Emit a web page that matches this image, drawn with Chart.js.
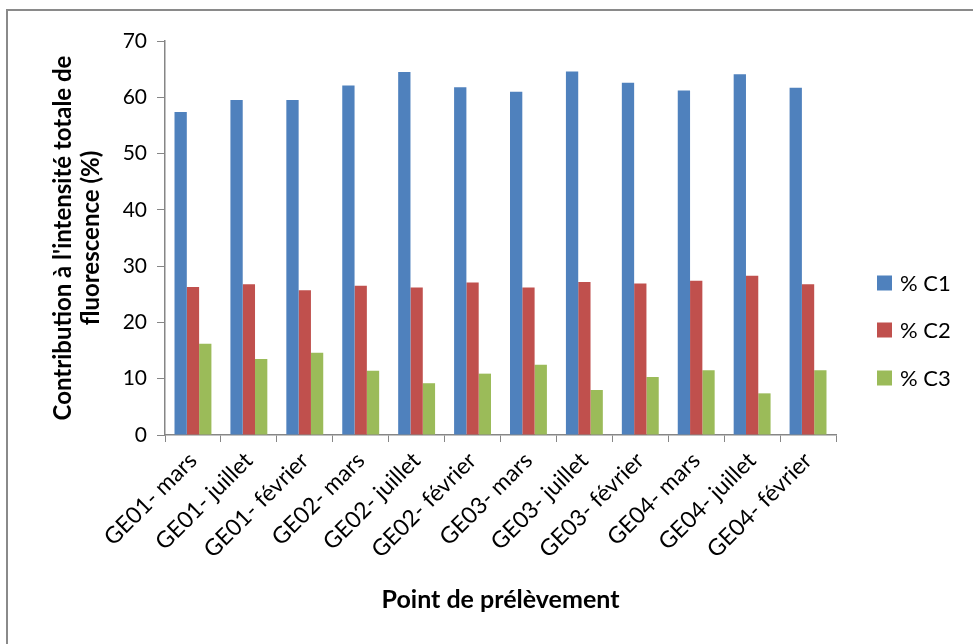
<!DOCTYPE html>
<html>
<head>
<meta charset="utf-8">
<script src="https://cdn.jsdelivr.net/npm/chart.js@4/dist/chart.umd.min.js"></script>
<style>
  html, body { margin: 0; padding: 0; background: #fff; overflow: hidden; }
  #wrap { position: relative; width: 973px; height: 644px; }
  #frame { position: absolute; left: 6px; top: 9px; width: 1000px; height: 700px;
           border: 2px solid #8a8a8a; box-sizing: border-box; pointer-events: none; }
  canvas { position: absolute; left: 0; top: 0; }
</style>
</head>
<body>
<div id="wrap">
  <canvas id="c" width="973" height="644"></canvas>
  <div id="frame"></div>
</div>
<script>
// Sampling points (site - month)
const categories = [
  'GE01- mars', 'GE01- juillet', 'GE01- février',
  'GE02- mars', 'GE02- juillet', 'GE02- février',
  'GE03- mars', 'GE03- juillet', 'GE03- février',
  'GE04- mars', 'GE04- juillet', 'GE04- février'
];
// Share of total fluorescence intensity per component (%)
const c1 = [57.4, 59.5, 59.5, 62.1, 64.5, 61.8, 61.0, 64.6, 62.6, 61.2, 64.1, 61.7];
const c2 = [26.3, 26.8, 25.7, 26.5, 26.2, 27.1, 26.2, 27.2, 26.9, 27.4, 28.3, 26.8];
const c3 = [16.2, 13.5, 14.6, 11.4, 9.2, 10.9, 12.5, 8.0, 10.3, 11.5, 7.4, 11.5];
const seriesNames = ['% C1', '% C2', '% C3'];
const yTicks = [0, 10, 20, 30, 40, 50, 60, 70];

const colors = ['#4F81BD', '#C0504D', '#9BBB59'];
const axisColor = '#868686';
const FONT = 'Lato, "Open Sans", sans-serif';

// Legend drawn beside the plot, stacked vertically
const sideLegend = {
  id: 'sideLegend',
  afterDraw(chart) {
    const { ctx, chartArea } = chart;
    const x = chartArea.right + 41;
    const rows = [283, 330, 378];
    ctx.save();
    ctx.font = '22px ' + FONT;
    ctx.textBaseline = 'middle';
    ctx.textAlign = 'left';
    chart.data.datasets.forEach((ds, i) => {
      ctx.fillStyle = ds.backgroundColor;
      ctx.fillRect(x, rows[i] - 7.5, 15, 15);
      ctx.fillStyle = '#000';
      ctx.fillText(ds.label, x + 23, rows[i] + 1);
    });
    ctx.restore();
  }
};

new Chart(document.getElementById('c'), {
  type: 'bar',
  data: {
    labels: categories,
    datasets: [c1, c2, c3].map((vals, i) => ({
      label: seriesNames[i],
      data: vals,
      backgroundColor: colors[i],
      borderWidth: 0,
      categoryPercentage: 0.66,
      barPercentage: 1.0
    }))
  },
  options: {
    responsive: false,
    animation: false,
    devicePixelRatio: 1,
    layout: { padding: { top: 41, right: 137, left: 0, bottom: 0 } },
    plugins: { legend: { display: false }, tooltip: { enabled: false } },
    scales: {
      x: {
        grid: { display: true, drawOnChartArea: false, drawTicks: true, tickLength: 7, color: axisColor, offset: true },
        border: { display: true, color: axisColor, width: 1.5 },
        ticks: { color: '#000', font: { family: FONT, size: 23 }, minRotation: 45, maxRotation: 45, padding: 5, autoSkip: false },
        title: { display: true, text: 'Point de prélèvement', color: '#000',
                 font: { family: FONT, size: 25, weight: 'bold', lineHeight: 1.2 }, padding: { top: 0, bottom: 29 } },
        afterFit(scale) { scale.height = 209; }
      },
      y: {
        min: 0, max: 70,
        grid: { display: true, drawOnChartArea: false, drawTicks: true, tickLength: 8, color: axisColor },
        border: { display: true, color: axisColor, width: 1.5 },
        afterBuildTicks(scale) { scale.ticks = yTicks.map(v => ({ value: v })); },
        ticks: { color: '#000', font: { family: FONT, size: 21 }, padding: 10 },
        title: { display: true, text: ["Contribution à l'intensité totale de", 'fluorescence (%)'], color: '#000',
                 font: { family: FONT, size: 24, weight: 'bold', lineHeight: '28px' }, padding: { top: 49, bottom: 0 } },
        afterFit(scale) { scale.width = 165; }
      }
    }
  },
  plugins: [sideLegend]
});
</script>
</body>
</html>
